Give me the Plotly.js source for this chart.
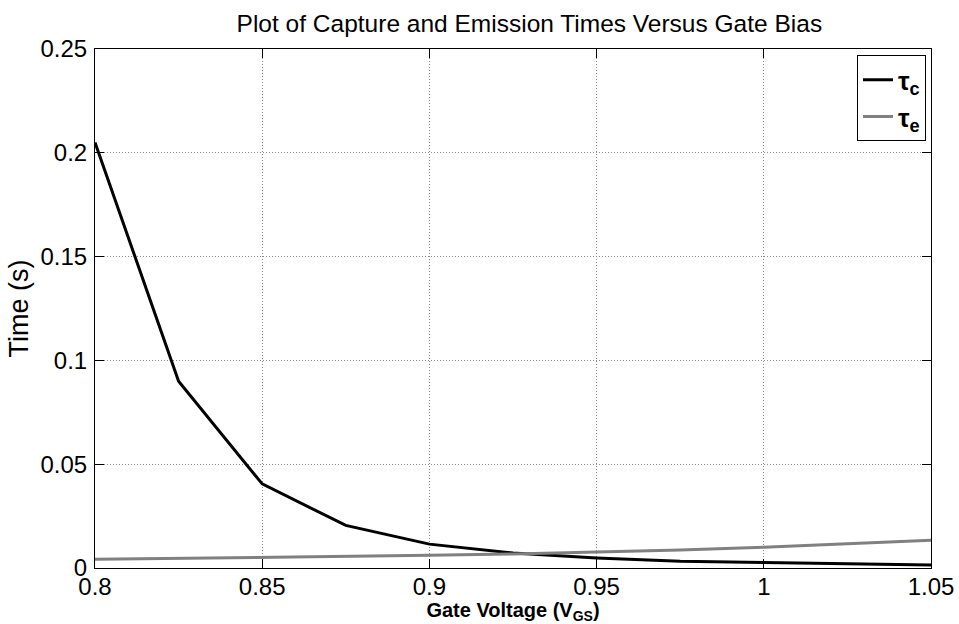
<!DOCTYPE html>
<html>
<head>
<meta charset="utf-8">
<script src="https://cdn.plot.ly/plotly-3.0.1.min.js"></script>
<style>
  html, body { margin: 0; padding: 0; background: #fff; }
  #chart { width: 959px; height: 624px; }
</style>
</head>
<body>
<div id="chart"></div>
<script>
// Gate bias sweep (V)
const gateVoltage = [0.8, 0.825, 0.85, 0.875, 0.9, 0.925, 0.95, 0.975, 1.0, 1.025, 1.05];
// Capture time tau_c (s)
const captureTime = [0.205, 0.090, 0.0405, 0.0205, 0.0115, 0.0072, 0.0048, 0.0032, 0.0026, 0.0020, 0.0015];
// Emission time tau_e (s)
const emissionTime = [0.0042, 0.0046, 0.0050, 0.0055, 0.0061, 0.0068, 0.0077, 0.0087, 0.0100, 0.0116, 0.0134];

const xTicks = [0.8, 0.85, 0.9, 0.95, 1.0, 1.05];
const xTickText = ['0.8', '0.85', '0.9', '0.95', '1', '1.05'];
const yTicks = [0, 0.05, 0.1, 0.15, 0.2, 0.25];
const yTickText = ['0', '0.05', '0.1', '0.15', '0.2', '0.25'];

const font = 'Liberation Sans, Arial, Helvetica, sans-serif';

const traces = [
  {
    x: gateVoltage, y: captureTime, type: 'scatter', mode: 'lines',
    name: '<b>τ<sub>c</sub></b>',
    line: { color: '#000000', width: 3 }
  },
  {
    x: gateVoltage, y: emissionTime, type: 'scatter', mode: 'lines',
    name: '<b>τ<sub>e</sub></b>',
    line: { color: '#808080', width: 3 }
  }
];

const axisCommon = {
  showline: true, linecolor: '#000', linewidth: 1, mirror: 'ticks',
  ticks: 'inside', ticklen: 9, tickcolor: '#000', tickwidth: 1,
  showgrid: true, gridcolor: '#8a8a8a', griddash: '1px,2px', gridwidth: 1,
  zeroline: false,
  tickfont: { family: font, size: 24, color: '#000' }
};

const layout = {
  width: 959, height: 624,
  paper_bgcolor: '#fff', plot_bgcolor: '#fff',
  margin: { l: 95, r: 28, t: 49, b: 56 },
  showlegend: true,
  title: {
    text: 'Plot of Capture and Emission Times Versus Gate Bias',
    font: { family: font, size: 24.5, color: '#000' },
    x: 0.552, xanchor: 'center', y: 0.962, yanchor: 'middle'
  },
  xaxis: Object.assign({}, axisCommon, {
    range: [0.8, 1.05], tickvals: xTicks, ticktext: xTickText,
    ticklabelstandoff: -3,
    title: {
      text: '<b>Gate Voltage (V<sub>GS</sub>)</b>',
      font: { family: font, size: 20, color: '#000' }
    }
  }),
  yaxis: Object.assign({}, axisCommon, {
    range: [0, 0.25], tickvals: yTicks, ticktext: yTickText,
    ticklabelstandoff: 2,
    title: {
      text: 'Time (s)',
      font: { family: font, size: 27, color: '#000' },
      standoff: 4
    }
  }),
  legend: {
    x: 0.994, xanchor: 'right', y: 0.988, yanchor: 'top',
    bgcolor: '#fff', bordercolor: '#000', borderwidth: 1,
    font: { family: font, size: 26, color: '#000' },
    tracegroupgap: 6
  }
};

Plotly.newPlot('chart', traces, layout, { displayModeBar: false, staticPlot: true });
</script>
</body>
</html>
